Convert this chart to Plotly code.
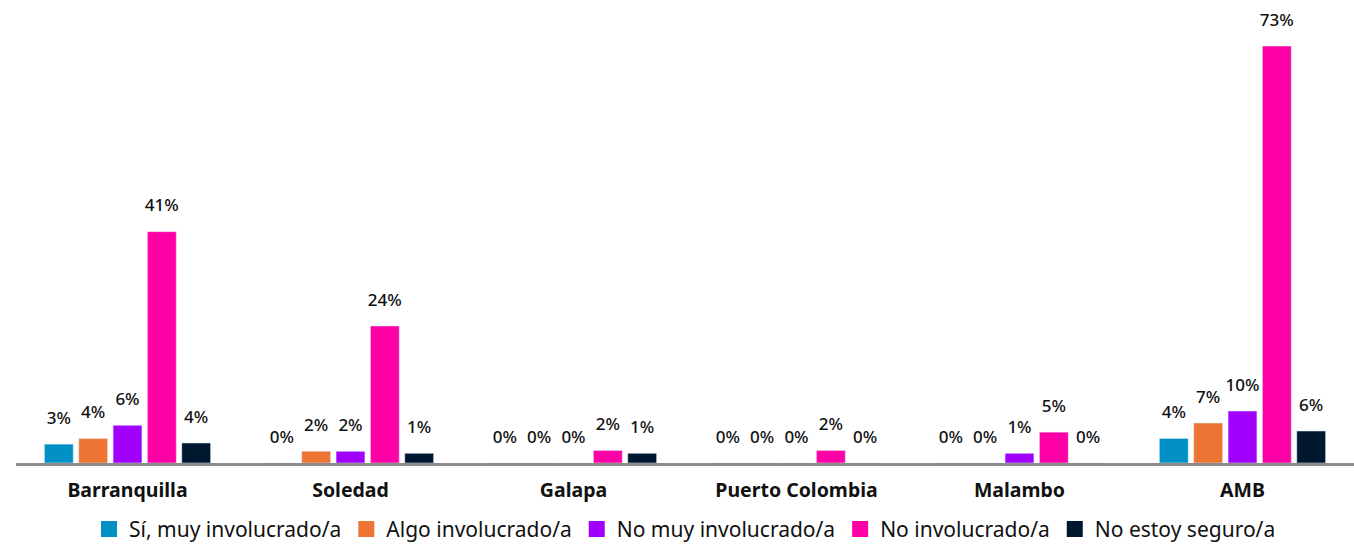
import plotly.graph_objects as go

categories = ["Barranquilla", "Soledad", "Galapa", "Puerto Colombia", "Malambo", "AMB"]
series_names = ["Sí, muy involucrado/a", "Algo involucrado/a", "No muy involucrado/a",
                "No involucrado/a", "No estoy seguro/a"]
si_muy = [3.3, 0, 0, 0, 0, 4.3]
algo = [4.3, 2.05, 0, 0, 0, 7.0]
no_muy = [6.6, 2.05, 0, 0, 1.7, 9.1]
no_inv = [40.5, 24.0, 2.2, 2.2, 5.4, 73.0]
no_seguro = [3.5, 1.7, 1.7, 0, 0, 5.6]

si_muy_lbl = ["3%", "0%", "0%", "0%", "0%", "4%"]
algo_lbl = ["4%", "2%", "0%", "0%", "0%", "7%"]
no_muy_lbl = ["6%", "2%", "0%", "0%", "1%", "10%"]
no_inv_lbl = ["41%", "24%", "2%", "2%", "5%", "73%"]
no_seguro_lbl = ["4%", "1%", "1%", "0%", "0%", "6%"]

colors = ["#0090C6", "#ED7433", "#A100FF", "#FF00A6", "#001730"]
values = [si_muy, algo, no_muy, no_inv, no_seguro]
labels = [si_muy_lbl, algo_lbl, no_muy_lbl, no_inv_lbl, no_seguro_lbl]

FONT = "Noto Sans"
fig = go.Figure()
for i, (name, vals, col) in enumerate(zip(series_names, values, colors)):
    fig.add_trace(go.Bar(x=categories, y=vals, name=name, marker_color=col,
                         offsetgroup=str(i), hoverinfo="skip", showlegend=False))
for i, (vals, lbl) in enumerate(zip(values, labels)):
    fig.add_trace(go.Scatter(x=categories, y=vals, text=lbl, mode="markers+text",
                             textposition="top center", offsetgroup=str(i),
                             marker=dict(size=24, opacity=0), showlegend=False,
                             cliponaxis=False, hoverinfo="skip",
                             textfont=dict(family=FONT, size=17, color="#111111", weight=500)))
# legend entries (square swatches)
for name, col in zip(series_names, colors):
    fig.add_trace(go.Scatter(x=[None], y=[None], mode="markers", name=name,
                             marker=dict(symbol="square", size=16, color=col),
                             showlegend=True, hoverinfo="skip"))

fig.update_layout(
    width=1354, height=546,
    barmode="group", bargap=0.23, bargroupgap=0.16,
    scattermode="group", scattergap=0.23,
    plot_bgcolor="white", paper_bgcolor="white",
    margin=dict(l=16, r=0, t=46, b=83, autoexpand=False),
    font=dict(family=FONT, color="#111111"),
    xaxis=dict(showline=True, linecolor="#8C8C8C", linewidth=3, ticks="",
               ticklabelstandoff=8,
               tickfont=dict(family=FONT, size=19.5, color="#111111", weight="bold")),
    yaxis=dict(range=[0, 73], visible=False, showgrid=False, zeroline=False),
    legend=dict(orientation="h", x=0.5, xanchor="center", y=-0.11, yanchor="top",
                font=dict(family=FONT, size=21, color="#111111"), itemwidth=30,
                traceorder="normal"),
    showlegend=True,
)
fig.write_html("out.html", config={"displayModeBar": False},
               post_script="document.body.style.margin='0';document.body.style.overflow='hidden';")
